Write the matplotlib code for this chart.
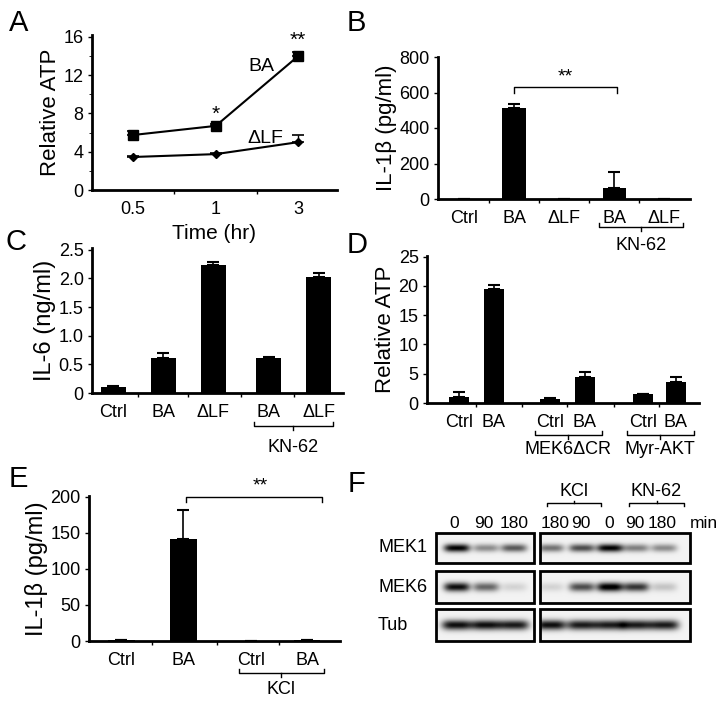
import matplotlib
matplotlib.use('Agg')
import matplotlib.pyplot as plt
import numpy as np

plt.rcParams['font.family'] = ['Liberation Sans', 'DejaVu Sans']

W, H = 724, 702

# --- datos panel A (ATP relativo vs tiempo)
tiempos = ['0.5', '1', '3']
atp_ba = [5.75, 6.7, 14.0]
atp_ba_err = [0.45, 0.2, 0.45]
atp_lf = [3.45, 3.75, 5.0]
atp_lf_err = [0.1, 0.1, 0.75]

# --- panel B (IL-1b)
cat_b = ['Ctrl', 'BA', 'ΔLF', 'BA', 'ΔLF']
il1b_b = [0, 513, 0, 62, 0]
il1b_b_err = [0, 22, 0, 90, 0]

# --- panel C (IL-6)
cat_c = ['Ctrl', 'BA', 'ΔLF', 'BA', 'ΔLF']
il6 = [0.105, 0.61, 2.24, 0.61, 2.03]
il6_err = [0.01, 0.09, 0.05, 0.01, 0.07]

# --- panel D (ATP relativo)
cat_d = ['Ctrl', 'BA', 'Ctrl', 'BA', 'Ctrl', 'BA']
atp_d = [1.1, 19.4, 0.7, 4.5, 1.5, 3.6]
atp_d_err = [0.8, 0.8, 0.2, 0.8, 0.0, 0.9]

# --- panel E (IL-1b con KCl)
cat_e = ['Ctrl', 'BA', 'Ctrl', 'BA']
il1b_e = [0.8, 141, 0.5, 0.8]
il1b_e_err = [0, 41, 0, 0]

# --- panel F (western blot, intensidad relativa de cada banda)
carriles = ['0', '90', '180', '180', '90', '0', '90', '180']
mek1 = [0.95, 0.4, 0.6, 0.5, 0.65, 0.95, 0.45, 0.4]
mek6 = [0.9, 0.55, 0.12, 0.12, 0.65, 1.0, 0.75, 0.18]
tub = [0.9, 0.9, 0.85, 0.9, 0.85, 0.85, 0.85, 0.85]

fig = plt.figure(figsize=(W / 100, H / 100), dpi=100)


def nuevo_eje(x0, y0, x1, y1):
    '''crea un eje a partir de su caja en pixeles (y0 arriba, y1 abajo)'''
    ax = fig.add_axes([x0 / W, 1 - y1 / H, (x1 - x0) / W, (y1 - y0) / H])
    ax.spines[['top', 'right']].set_visible(False)
    ax.spines[['left', 'bottom']].set_linewidth(2)
    ax.tick_params(labelsize=13, length=3, width=1, pad=3)
    ax.tick_params(axis='x', length=0, pad=8)
    ax.tick_params(axis='x', which='minor', length=3, width=1)
    return ax


def alto_px(ax):
    return ax.get_position().height * H


def llave(ax, x0, x1, abajo, texto, abajo_txt):
    '''linea de grupo debajo de las etiquetas'''
    tr = ax.get_xaxis_transform()
    h = alto_px(ax)
    y = -abajo / h
    d = 4 / h
    ax.plot([x0, x0, x1, x1], [y + d, y, y, y + d], transform=tr, clip_on=False, color='k', lw=1)
    xm = (x0 + x1) / 2
    ax.plot([xm, xm], [y, y - d], transform=tr, clip_on=False, color='k', lw=1)
    ax.text(xm, -abajo_txt / h, texto, transform=tr, ha='center', va='center', fontsize=13)


def barras(ax, pos, vals, errs, nombres, ancho):
    ax.bar(pos, vals, width=ancho, color='k')
    ax.errorbar(pos, vals, yerr=[np.zeros(len(errs)), errs], fmt='none', ecolor='k',
                elinewidth=1.2, capsize=4, capthick=1.5)
    ax.set_xticks(pos)
    ax.set_xticklabels(nombres)
    medios = [(pos[i] + pos[i + 1]) / 2 for i in range(len(pos) - 1)]
    ax.set_xticks(medios, minor=True)


# ---------------- A
axA = nuevo_eje(92, 35, 337, 190)
xa = np.arange(len(tiempos))
axA.errorbar(xa, atp_ba, yerr=[[0] * 3, atp_ba_err], color='k', lw=1.5, marker='s', ms=7,
             capsize=4, elinewidth=1, capthick=1.2)
axA.errorbar(xa, atp_lf, yerr=[[0] * 3, atp_lf_err], color='k', lw=1.5, marker='D', ms=4,
             capsize=4, elinewidth=1, capthick=1.2)
axA.set_xlim(-0.5, 2.47)
axA.set_ylim(0, 16.2)
axA.set_yticks([0, 4, 8, 12, 16])
axA.set_yticks([2, 6, 10, 14], minor=True)
axA.set_xticks(xa)
axA.set_xticklabels(tiempos)
axA.set_xticks([0.5, 1.5], minor=True)
axA.set_xlabel('Time (hr)', fontsize=15, labelpad=4)
axA.set_ylabel('Relative ATP', fontsize=16, labelpad=2)
axA.text(1.55, 12.9, 'BA', fontsize=14, ha='center', va='center')
axA.text(1.6, 5.4, 'ΔLF', fontsize=14, ha='center', va='center')
axA.text(1.0, 6.9, '*', fontsize=15, ha='center', va='bottom')
axA.text(1.99, 14.6, '**', fontsize=15, ha='center', va='bottom', clip_on=False)

# ---------------- B
axB = nuevo_eje(438, 57, 690, 199)
xb = np.arange(len(cat_b))
barras(axB, xb, il1b_b, il1b_b_err, cat_b, 0.46)
axB.set_xlim(-0.52, 4.52)
axB.set_ylim(0, 800)
axB.set_yticks([0, 200, 400, 600, 800])
axB.set_ylabel('IL-1β (pg/ml)', fontsize=16, labelpad=2)
axB.plot([1, 1, 3.05, 3.05], [597, 631, 631, 597], color='k', lw=1, clip_on=False)
axB.text(2.03, 640, '**', fontsize=14, ha='center', va='bottom')
llave(axB, 2.7, 4.38, 28, 'KN-62', 46)

# ---------------- C
axC = nuevo_eje(92, 248, 343, 393)
xc = [0, 1, 2, 3.1, 4.1]
barras(axC, xc, il6, il6_err, cat_c, 0.5)
axC.set_xlim(-0.42, 4.58)
axC.set_ylim(0, 2.53)
axC.set_yticks([0, 0.5, 1.0, 1.5, 2.0, 2.5])
axC.set_yticklabels(['0', '0.5', '1.0', '1.5', '2.0', '2.5'])
axC.set_ylabel('IL-6 (ng/ml)', fontsize=17, labelpad=2)
llave(axC, 2.8, 4.38, 33, 'KN-62', 54)

# ---------------- D
axD = nuevo_eje(427, 256, 699, 403)
xd = [0, 1, 2.6, 3.6, 5.25, 6.2]
barras(axD, xd, atp_d, atp_d_err, cat_d, 0.57)
axD.set_xlim(-0.91, 6.86)
axD.set_ylim(0, 25.1)
axD.set_yticks([0, 5, 10, 15, 20, 25])
axD.set_ylabel('Relative ATP', fontsize=16, labelpad=2)
llave(axD, 2.17, 4.09, 32, 'MEK6ΔCR', 47)
llave(axD, 4.8, 6.71, 32, 'Myr-AKT', 47)

# ---------------- E
axE = nuevo_eje(89, 496, 340, 641)
xe = [0, 1, 2.1, 3.0]
barras(axE, xe, il1b_e, il1b_e_err, cat_e, 0.43)
axE.set_xlim(-0.52, 3.53)
axE.set_ylim(0, 201)
axE.set_yticks([0, 50, 100, 150, 200])
axE.set_ylabel('IL-1β (pg/ml)', fontsize=17, labelpad=2)
axE.plot([1.05, 1.05, 3.24, 3.24], [192, 200, 200, 192], color='k', lw=1, clip_on=False)
axE.text(2.24, 203, '**', fontsize=14, ha='center', va='bottom', clip_on=False)
llave(axE, 1.9, 3.27, 32, 'KCl', 49)

# ---------------- F (blot) en coordenadas de pixel
axF = fig.add_axes([362 / W, 0, (W - 362) / W, 242 / H])
axF.set_xlim(362, 724)
axF.set_ylim(702, 460)
axF.axis('off')

cajas_x = [(436, 534, 0, 3), (540, 690, 3, 8)]
carril_x = [457, 486, 514, 551, 582, 610, 636, 664]
etiqueta_x = [454, 484, 514, 555, 581, 609, 635, 662]
filas = [('MEK1', 533, 563, mek1, 13, 4.0), ('MEK6', 571, 603, mek6, 13, 4.5),
         ('Tub', 609, 641, tub, 15, 5.0)]

for nombre, y0, y1, intens, sx, sy in filas:
    for x0, x1, i0, i1 in cajas_x:
        xs = np.arange(x0, x1) + 0.5
        ys = np.arange(y0, y1) + 0.5
        X, Y = np.meshgrid(xs, ys)
        yc = (y0 + y1) / 2
        img = np.full(X.shape, 0.05)
        for i in range(i0, i1):
            img += intens[i] * np.exp(-((X - carril_x[i]) / sx) ** 4) * np.exp(-((Y - yc) / sy) ** 2)
        axF.imshow(np.clip(img, 0, 1), cmap='gray_r', vmin=0, vmax=1, extent=(x0, x1, y1, y0),
                   aspect='auto', interpolation='bilinear')
        axF.add_patch(plt.Rectangle((x0, y0), x1 - x0, y1 - y0, fill=False, lw=2, ec='k'))
    axF.text(378, (y0 + y1) / 2, nombre, fontsize=13, ha='left', va='center')

for i, c in enumerate(carriles):
    axF.text(etiqueta_x[i], 523, c, fontsize=12.5, ha='center', va='center')
axF.text(704, 523, 'min', fontsize=12.5, ha='center', va='center')

for etiqueta, x0, x1 in [('KCl', 547, 601), ('KN-62', 629, 684)]:
    axF.plot([x0, x0, x1, x1], [506, 503, 503, 506], color='k', lw=1)
    xm = (x0 + x1) / 2
    axF.plot([xm, xm], [503, 501], color='k', lw=1)
    axF.text(xm, 491, etiqueta, fontsize=13, ha='center', va='center')

axF.set_xlim(362, 724)
axF.set_ylim(702, 460)

# letras de panel
for letra, x, y in [('A', 19, 23), ('B', 356, 23), ('C', 16, 242), ('D', 357, 245),
                    ('E', 18, 479), ('F', 356, 484)]:
    fig.text(x / W, 1 - y / H, letra, fontsize=21, ha='center', va='center')

fig.savefig('out.png', dpi=100)
